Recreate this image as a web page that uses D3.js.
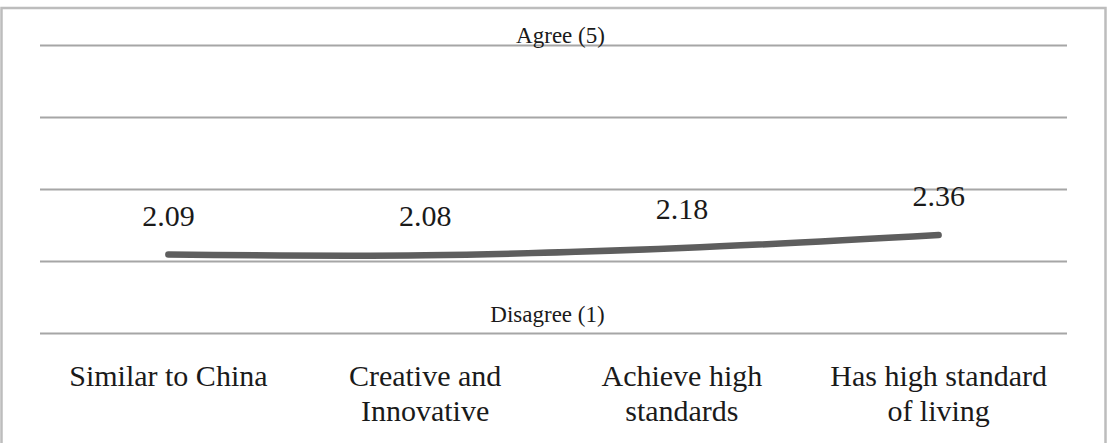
<!DOCTYPE html>
<html lang="en">
	<head>
		<meta charset="utf-8">
		<title>Perception line</title>
		<script type="text/javascript" src="https://cdn.jsdelivr.net/npm/d3@7"></script>
		<style type="text/css">
			body { margin: 0; background: #fff; }
			text { font-family: "Liberation Serif", "Times New Roman", serif; fill: #1a1a1a; }
		</style>
	</head>
	<body>
        <svg width="1109" height="443"></svg>
		<script type="text/javascript">

            // data
            const categories = [
                ['Similar to China'],
                ['Creative and', 'Innovative'],
                ['Achieve high', 'standards'],
                ['Has high standard', 'of living']
            ];
            const values = [2.09, 2.08, 2.18, 2.36];
            const gridValues = [1, 2, 3, 4, 5];
            const scaleLabels = ['Disagree (1)', 'Agree (5)'];
            const scaleLabelValues = [1, 5];

            const svg = d3.select('svg');
            const margin = { left: 40, right: 42, top: 45, bottom: 110 };
            const width = +svg.attr('width');
            const height = +svg.attr('height');

            // outer frame
            svg.append('rect')
                .attr('x', 1.5).attr('y', 8)
                .attr('width', 1104).attr('height', 460)
                .attr('fill', 'none')
                .attr('stroke', '#bdbdbd')
                .attr('stroke-width', 2.5);

            const xScale = d3.scaleBand()
                .domain(d3.range(categories.length))
                .range([margin.left, width - margin.right]);

            const yScale = d3.scaleLinear()
                .domain([1, 5])
                .range([333, 45]);

            // gridlines
            const yAxis = d3.axisLeft(yScale)
                .tickValues(gridValues)
                .tickSize(-(xScale.range()[1] - xScale.range()[0]))
                .tickFormat('');
            const yAxisG = svg.append('g')
                .attr('transform', `translate(${margin.left},0)`)
                .call(yAxis);
            yAxisG.select('.domain').remove();
            yAxisG.selectAll('.tick line')
                .attr('stroke', '#a6a6a6')
                .attr('stroke-width', 2);

            // scale labels
            const mid = (xScale.range()[0] + xScale.range()[1]) / 2;
            svg.selectAll('.scale-label').data(scaleLabels)
                .enter().append('text')
                .attr('class', 'scale-label')
                .attr('x', (d, i) => mid + (i === 0 ? -6 : 7))
                .attr('y', (d, i) => yScale(scaleLabelValues[i]) + (i === 0 ? -11 : -2))
                .attr('text-anchor', 'middle')
                .style('font-size', '23px')
                .text(d => d);

            // line
            const line = d3.line()
                .x((d, i) => xScale(i) + xScale.bandwidth() / 2)
                .y(d => yScale(d))
                .curve(d3.curveCatmullRom.alpha(0.5));

            svg.append('path')
                .datum(values)
                .attr('d', line)
                .attr('fill', 'none')
                .attr('stroke', '#5e5e5e')
                .attr('stroke-width', 6.5)
                .attr('stroke-linecap', 'round');

            // value labels
            svg.selectAll('.val').data(values)
                .enter().append('text')
                .attr('class', 'val')
                .attr('x', (d, i) => xScale(i) + xScale.bandwidth() / 2)
                .attr('y', d => yScale(d) - 29)
                .attr('text-anchor', 'middle')
                .style('font-size', '30px')
                .text(d => d.toFixed(2));

            // category labels
            const catG = svg.selectAll('.cat').data(categories)
                .enter().append('text')
                .attr('class', 'cat')
                .attr('text-anchor', 'middle')
                .style('font-size', '30px');
            catG.selectAll('tspan').data((d, i) => d.map(t => ({ t, i })))
                .enter().append('tspan')
                .attr('x', d => xScale(d.i) + xScale.bandwidth() / 2)
                .attr('y', (d, j) => 386 + j * 35)
                .text(d => d.t);

		</script>
	</body>
</html>
